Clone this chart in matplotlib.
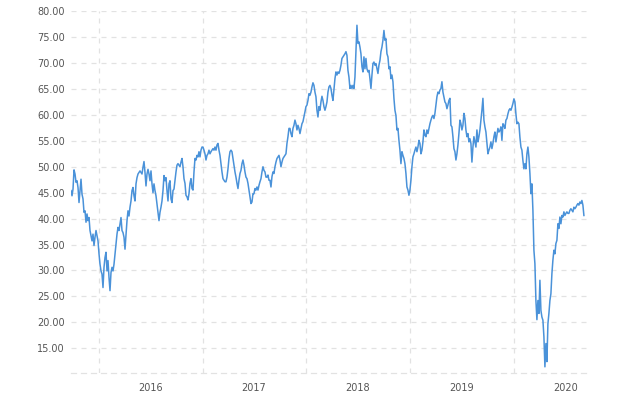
import numpy as np
import pandas as pd
import matplotlib
matplotlib.use('Agg')
import matplotlib.pyplot as plt
import matplotlib.dates as mdates
from matplotlib.ticker import FormatStrFormatter

# 价格数据, 从图上按时间顺序读取 (2015-09 到 2020-09)
price_2015_16 = [
    45.4, 44.4, 45.7, 49.4, 48.6, 47.0, 47.3, 46.0, 43.1, 45.4,
    47.6, 44.7, 43.8, 41.2, 41.5, 39.3, 40.9, 39.6, 40.2, 37.7,
    36.7, 35.7, 37.0, 34.8, 36.4, 37.7, 36.7, 35.7, 33.2, 31.2,
    29.9, 29.3, 26.7, 30.6, 32.5, 33.5, 29.9, 31.9, 28.6, 26.1,
    29.6, 30.6, 29.9, 31.2, 33.2, 35.1, 37.0, 38.3, 37.7, 38.9,
    40.2, 37.7, 37.3, 36.4, 34.1, 37.0, 39.6, 41.5, 40.5, 42.2,
    43.4, 45.4, 46.0, 44.4, 43.4, 46.7, 47.9, 48.6, 48.9, 49.2,
    48.9, 48.6, 49.9, 51.0, 48.9, 46.3, 48.6, 49.5, 48.6, 47.3,
    49.2, 46.7, 45.0, 46.7, 45.4, 44.4, 42.8, 41.2, 39.6, 41.2,
    42.2, 43.4, 45.4, 48.3, 47.3, 47.9, 45.4, 43.4, 46.7, 47.3,
    43.8, 43.1, 45.4, 45.7,
]
price_2016_17 = [
    47.4, 49.0, 50.3, 50.6, 50.3, 50.0, 50.9, 51.6, 50.0, 47.7,
    46.8, 44.5, 44.2, 43.6, 44.8, 46.8, 47.7, 45.8, 45.5, 49.0,
    51.6, 51.3, 52.2, 51.9, 52.9, 51.9, 53.2, 53.8, 53.8, 53.2,
    52.5, 51.3, 52.2, 52.5, 53.2, 52.5, 52.9, 53.2, 53.5, 53.2,
    53.8, 53.2, 54.2, 54.5, 53.2, 52.2, 50.6, 49.0, 47.7, 47.4,
    47.1, 47.1, 48.0, 49.6, 51.6, 52.9, 53.2, 52.9, 51.6, 50.3,
    49.0, 48.0, 46.8, 45.8, 47.4, 48.7, 49.3, 50.6, 51.3, 50.3,
    49.0, 48.0, 47.7, 46.8, 45.5, 44.2, 42.9, 43.2, 44.8, 44.8,
    45.8, 45.5, 46.1, 45.5, 46.4, 47.1, 47.7, 49.0, 50.0, 49.3,
    49.0, 48.0, 48.0, 48.4, 47.4,
]
price_2017_18 = [
    47.4, 46.1, 48.1, 49.0, 48.7, 50.0, 50.9, 51.6, 51.9, 52.2,
    51.3, 50.0, 50.9, 51.6, 51.9, 52.2, 52.5, 54.5, 55.8, 57.4,
    57.4, 56.4, 55.8, 57.4, 58.0, 59.0, 58.3, 57.1, 58.0, 57.4,
    56.4, 57.4, 58.3, 58.7, 59.6, 60.6, 61.6, 61.9, 62.8, 64.1,
    63.8, 64.4, 65.4, 66.2, 65.7, 64.4, 63.5, 60.9, 59.6, 61.6,
    60.9, 62.5, 63.6, 62.8, 61.6, 60.9, 61.6, 62.5, 64.4, 65.4,
    65.7, 65.1, 63.8, 62.8, 64.8, 67.0, 68.3, 67.7, 68.3, 68.0,
    68.6, 69.6, 70.9, 71.2, 71.5, 71.8, 72.2, 71.5, 68.6, 67.3,
    65.1, 65.7, 65.1, 65.7, 65.1, 67.3, 72.5, 77.3, 73.8, 74.1,
    73.1, 71.8, 69.3, 68.3, 71.2, 68.9, 70.9, 68.9, 68.3, 68.6,
    67.0, 65.1, 67.7, 69.9, 70.2, 69.6, 69.9, 68.9, 68.0, 69.6,
    70.5, 72.2, 73.1, 74.4, 76.3, 74.4, 74.7, 71.8, 71.2, 68.9,
]
price_2018_19 = [
    69.3, 67.0, 67.7, 66.4, 63.2, 60.9, 59.9, 57.1, 57.4, 55.1,
    53.2, 50.6, 52.9, 52.2, 51.6, 50.6, 48.7, 46.1, 45.5, 44.5,
    45.5, 47.4, 50.0, 51.9, 52.5, 53.2, 53.8, 52.9, 53.8, 55.1,
    54.5, 52.5, 53.2, 54.8, 57.1, 56.1, 55.8, 57.1, 56.4, 57.4,
    58.3, 59.0, 59.6, 59.9, 59.3, 60.3, 61.9, 63.5, 64.4, 64.1,
    64.8, 65.1, 66.4, 64.4, 63.5, 62.5, 62.2, 61.2, 61.9, 62.8,
    63.2, 58.0, 57.7, 55.8, 53.5, 52.9, 51.3, 52.5, 54.2, 56.4,
    59.0, 58.3, 57.1, 58.0, 60.3, 59.3, 57.1, 55.8, 56.4, 54.8,
    55.4, 54.5, 50.9, 53.8, 55.8, 54.8, 53.8, 57.1, 54.8, 55.8,
    57.1, 59.0, 60.9, 63.2, 59.0, 57.7, 56.7, 54.5, 52.5, 53.2,
    53.8, 54.8, 53.5, 54.5, 55.8, 56.7, 54.8, 56.1, 57.4, 56.7,
]
price_2019_20 = [
    57.0, 57.7, 55.1, 58.3, 58.0, 57.4, 59.0, 59.3, 60.2, 60.9,
    61.2, 60.9, 61.5, 62.2, 63.1, 62.5, 60.2, 58.3, 58.6, 58.3,
    55.7, 53.8, 53.2, 51.2, 49.6, 50.6, 49.6, 52.5, 53.8, 51.9,
    48.7, 44.8, 46.7, 41.6, 33.9, 31.3, 24.2, 20.5, 24.2, 21.7,
    28.1, 22.3, 21.0, 20.4, 17.2, 11.4, 15.9, 12.4, 19.7, 21.7,
    24.2, 25.5, 29.4, 32.0, 33.9, 33.2, 35.2, 35.8, 39.0, 38.1,
    40.3, 39.0, 40.6, 40.3, 41.3, 40.6, 41.0, 41.3, 41.0, 41.0,
    41.6, 41.9, 41.6, 41.3, 42.2, 41.9, 42.2, 42.6, 42.9, 42.6,
    43.2, 42.9, 43.5, 42.6, 40.6,
]

prices = np.array(price_2015_16 + price_2016_17 + price_2017_18
                  + price_2018_19 + price_2019_20)
dates = pd.date_range('2015-09-25', '2020-09-05', periods=len(prices))

y_ticks = np.arange(15, 81, 5)
grid_color = '#e2e2e2'
dash = (0, (4, 4))

fig = plt.figure(figsize=(6.24, 3.94), dpi=100)
ax = fig.add_axes([0.1138, 0.0525, 0.8274, 0.9196])

ax.plot(dates, prices, color='#4a92d9', lw=1.1)

ax.set_xlim(pd.Timestamp('2015-09-25'), pd.Timestamp('2020-09-17'))
ax.set_ylim(10.15, 80.05)
ax.set_yticks(y_ticks)
ax.yaxis.set_major_formatter(FormatStrFormatter('%.2f'))

# 年份标签放在年中, 网格线在年初
ax.xaxis.set_major_locator(mdates.MonthLocator(bymonth=7))
ax.xaxis.set_major_formatter(mdates.DateFormatter('%Y'))
ax.xaxis.set_minor_locator(mdates.YearLocator())

ax.grid(which='minor', axis='x', color=grid_color, linestyle=dash, lw=0.9)
ax.grid(which='major', axis='y', color=grid_color, linestyle=dash, lw=0.9)
ax.grid(which='major', axis='x', visible=False)

for side in ['top', 'right', 'left']:
    ax.spines[side].set_visible(False)
ax.spines['bottom'].set_color(grid_color)
ax.spines['bottom'].set_linestyle(dash)
ax.spines['bottom'].set_linewidth(0.9)

ax.tick_params(axis='both', which='both', length=0, labelsize=7, colors='#555555')
ax.tick_params(axis='y', pad=4.5)
ax.tick_params(axis='x', pad=7)

fig.savefig('out.png', dpi=100)
